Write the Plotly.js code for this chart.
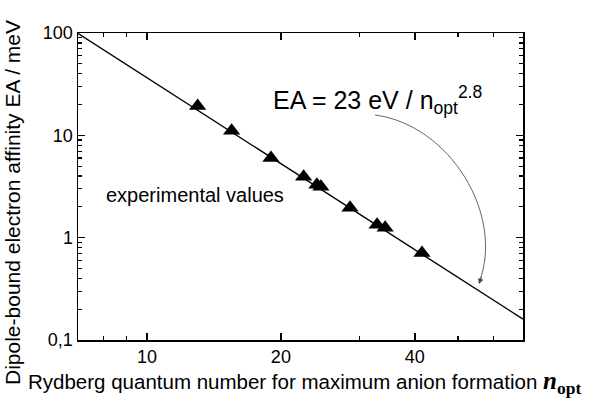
<!DOCTYPE html>
<html>
<head>
<meta charset="utf-8">
<script src="https://cdn.plot.ly/plotly-3.0.1.min.js"></script>
<style>html,body{margin:0;padding:0;background:#fff;}#chart{width:600px;height:399px;}</style>
</head>
<body>
<div id="chart"></div>
<script>
var nOpt = [13.0, 15.5, 19.0, 22.5, 24.1, 24.6, 28.6, 32.9, 34.3, 41.5];
var eaMeV = [19.4, 11.1, 6.0, 3.94, 3.29, 3.15, 1.96, 1.34, 1.25, 0.71];
// Fit line EA = 23 eV / n^2.8, end points
var fitN = [7, 70];
var fitEA = [99, 0.16];
// Tick labels
var xTickVals = [10, 20, 40];
var xTickText = ['10', '20', '40'];
var yTickVals = [0.1, 1, 10, 100];
var yTickText = ['0,1', '1', '10', '100'];
var xMinorVals = [8, 9, 30, 50, 60];
var yMinorVals = [0.2, 0.3, 0.4, 0.5, 0.6, 0.7, 0.8, 0.9, 2, 3, 4, 5, 6, 7, 8, 9, 20, 30, 40, 50, 60, 70, 80, 90];

var L = 78, R = 523, T = 33, B = 340;
function px(x){ return (x - L) / (R - L); }
function py(y){ return (B - y) / (B - T); }

var traces = [
  {x: fitN, y: fitEA, mode: 'lines', line: {color: '#000', width: 1.4}, hoverinfo: 'skip'},
  {x: nOpt, y: eaMeV, mode: 'markers', marker: {symbol: 'triangle-up', size: 15, color: '#000'}}
];

var arrowPath = 'M ' + px(375) + ' ' + py(115) + ' C ' + px(450) + ' ' + py(125) + ', ' +
  px(505) + ' ' + py(215) + ', ' + px(479) + ' ' + py(283);

var layout = {
  width: 600, height: 399,
  margin: {l: L, r: 600 - R, t: T, b: 399 - B},
  paper_bgcolor: '#fff', plot_bgcolor: '#fff',
  showlegend: false,
  font: {family: 'Liberation Sans, Arial, sans-serif', color: '#000', size: 18},
  xaxis: {
    type: 'log', range: [Math.log10(7), Math.log10(70)],
    tickmode: 'array', tickvals: xTickVals, ticktext: xTickText,
    ticks: 'inside', ticklen: 7, tickwidth: 1.5, tickcolor: '#000',
    mirror: 'allticks', showline: true, linecolor: '#000', linewidth: 1.5,
    showgrid: false, zeroline: false,
    tickfont: {size: 18},
    minor: {tickmode: 'array', tickvals: xMinorVals, ticks: 'inside', ticklen: 4, tickwidth: 1.2, tickcolor: '#000', showgrid: false}
  },
  yaxis: {
    type: 'log', range: [-1, 2],
    tickmode: 'array', tickvals: yTickVals, ticktext: yTickText,
    ticks: 'inside', ticklen: 7, tickwidth: 1.5, tickcolor: '#000',
    mirror: 'allticks', showline: true, linecolor: '#000', linewidth: 1.5,
    showgrid: false, zeroline: false,
    tickfont: {size: 18},
    minor: {tickmode: 'array', tickvals: yMinorVals, ticks: 'inside', ticklen: 4, tickwidth: 1.2, tickcolor: '#000', showgrid: false}
  },
  shapes: [
    {type: 'path', xref: 'paper', yref: 'paper', path: arrowPath, line: {color: '#555', width: 0.9}}
  ],
  annotations: [
    {xref: 'paper', yref: 'paper', x: px(479), y: py(284), ax: 3, ay: -9,
     showarrow: true, arrowhead: 2, arrowsize: 1.2, arrowwidth: 0.9, arrowcolor: '#444', text: ''},
    {xref: 'paper', yref: 'paper', x: px(271), y: py(100), xanchor: 'left', yanchor: 'middle',
     showarrow: false, text: 'EA = 23 eV / n<sub>opt</sub><sup>2.8</sup>', font: {size: 25}},
    {xref: 'paper', yref: 'paper', x: px(104), y: py(195), xanchor: 'left', yanchor: 'middle',
     showarrow: false, text: 'experimental values', font: {size: 20}},
    {xref: 'paper', yref: 'paper', x: px(12), y: py(203), xanchor: 'center', yanchor: 'middle',
     textangle: -90, showarrow: false, text: 'Dipole-bound electron affinity EA / meV', font: {size: 21}},
    {xref: 'paper', yref: 'paper', x: px(304), y: py(382), xanchor: 'center', yanchor: 'middle',
     showarrow: false,
     text: 'Rydberg quantum number for maximum anion formation <span style="font-family:Liberation Serif;font-size:25px"><b><i>n</i></b><sub><b>opt</b></sub></span>',
     font: {size: 20.5}}
  ]
};

Plotly.newPlot('chart', traces, layout, {staticPlot: true, displayModeBar: false});
</script>
</body>
</html>
